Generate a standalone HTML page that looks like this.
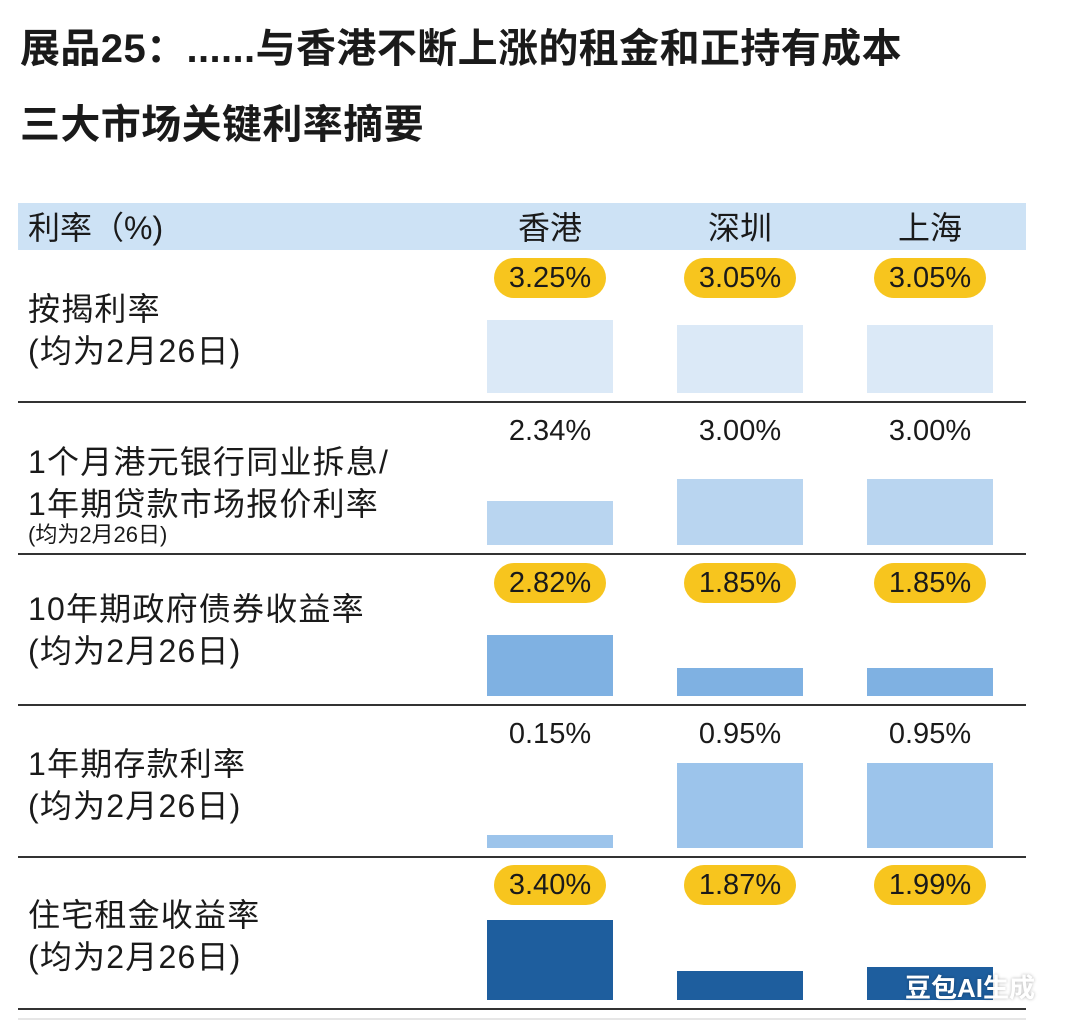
<!DOCTYPE html>
<html><head><meta charset="utf-8">
<style>
body{margin:0;width:1080px;height:1030px;background:#fff;position:relative;overflow:hidden;font-family:"Liberation Sans","Noto Sans CJK SC",sans-serif;color:#1a1a1a}
.abs{position:absolute}
.title{left:20px;font-weight:bold;font-size:40px;white-space:nowrap;letter-spacing:0.4px}
.rowlabel{left:28px;font-size:32px;line-height:42px;white-space:nowrap;letter-spacing:1.2px}
.hdr{font-size:32px;top:203px;height:50px;line-height:50px}
.val{font-size:29px;text-align:center;width:112px;height:40px;line-height:40px;border-radius:20px}
.badge{background:#f7c51e}
.sep{left:18px;width:1008px;height:2px;background:#333}
</style></head>
<body>
<div class="abs title" style="top:16px">展品25：......与香港不断上涨的租金和正持有成本</div>
<div class="abs title" style="top:92px">三大市场关键利率摘要</div>
<div class="abs" style="left:18px;top:203px;width:1008px;height:47px;background:#cde2f5"></div>
<div class="abs hdr" style="left:28px">利率（%)</div>
<div class="abs hdr" style="left:490px;width:120px;text-align:center">香港</div>
<div class="abs hdr" style="left:680px;width:120px;text-align:center">深圳</div>
<div class="abs hdr" style="left:870px;width:120px;text-align:center">上海</div>
<div class="abs" style="left:18px;top:1018px;width:1008px;height:2px;background:#e6e6e6"></div>
<div id="root"></div>
<script>
const categories=["香港","深圳","上海"];
const rowTitles=["按揭利率","1个月港元银行同业拆息/\n1年期贷款市场报价利率","10年期政府债券收益率","1年期存款利率","住宅租金收益率"];
const seriesMortgage=[3.25,3.05,3.05];
const seriesHibor=[2.34,3.00,3.00];
const seriesBond=[2.82,1.85,1.85];
const seriesDeposit=[0.15,0.95,0.95];
const seriesRent=[3.40,1.87,1.99];
const rows=[seriesMortgage,seriesHibor,seriesBond,seriesDeposit,seriesRent];
const badgeRows=[true,false,true,false,true];
// layout/scale parameters
const rowTop=[250,403,555,706,857];
const barBottom=[393,545,696,848,1000];
const barMaxH=[73,66,61,85,80];
const rowBase=[0.36,1.02,1.03,0,1.01];
const colors=["#dbe9f7","#b9d5f0","#7fb1e2","#9cc4eb","#1e5e9e"];
const labelOffset=[38,38,33,37,37];
const colX=[487,677,867], barW=126;
const root=document.getElementById('root');
function yScale(r,v,max){return (v-rowBase[r])/(max-rowBase[r])*barMaxH[r];}
rows.forEach((vals,r)=>{
  const max=Math.max(...vals);
  const t=rowTop[r];
  const lab=document.createElement('div');
  lab.className='abs rowlabel';
  
  
  lab.style.top=(t+labelOffset[r])+'px';
  if(r===1){lab.innerHTML='1个月港元银行同业拆息/<br>1年期贷款市场报价利率<br><span style="font-size:22px;line-height:24px;display:block;margin-top:-2px;letter-spacing:0">(均为2月26日)</span>';}
  else{lab.innerHTML=rowTitles[r]+'<br>(均为2月26日)';}
  root.appendChild(lab);
  vals.forEach((v,c)=>{
    const h=yScale(r,v,max);
    const b=document.createElement('div');
    b.className='abs';
    
    
    b.style.cssText=`left:${colX[c]}px;top:${barBottom[r]-h}px;width:${barW}px;height:${h}px;background:${colors[r]}`;
    root.appendChild(b);
    const l=document.createElement('div');
    l.className='abs val'+(badgeRows[r]?' badge':'');
    
    
    l.style.left=(colX[c]+barW/2-56)+'px';
    l.style.top=(t+8)+'px';
    l.textContent=v.toFixed(2)+'%';
    root.appendChild(l);
  });
  const s=document.createElement('div');
  s.className='abs sep';
  
  
  s.style.top=(barBottom[r]+8)+'px';
  root.appendChild(s);
});
</script>
<div class="abs" style="left:905px;top:968px;font-size:26px;font-weight:bold;color:#fff;text-shadow:0 0 3px rgba(0,0,0,.3)">豆包AI生成</div>
</body></html>
